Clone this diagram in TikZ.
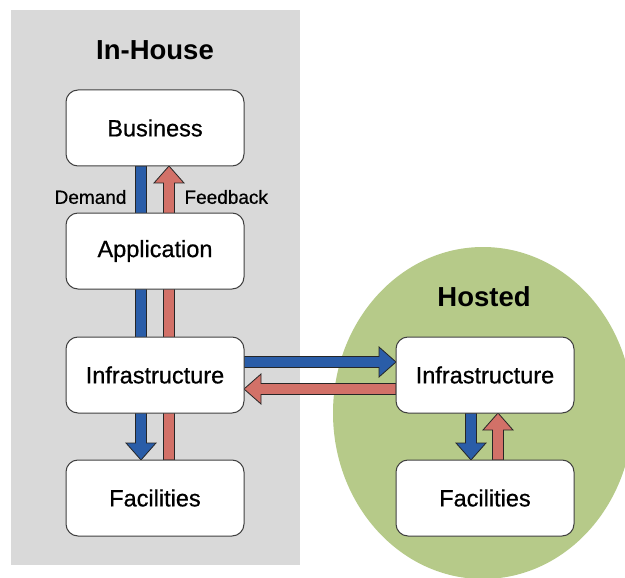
\documentclass[tikz,border=0pt]{standalone}
\usepackage{fontspec}
\setmainfont{Liberation Sans}
\newfontfamily\labfont{Liberation Sans}[FakeBold=0.7]
\usetikzlibrary{calc,backgrounds}
\definecolor{demColor}{HTML}{2A5DA8}
\definecolor{fbColor}{HTML}{D27168}
\definecolor{houseColor}{HTML}{D9D9D9}
\definecolor{hostColor}{HTML}{B6CA89}
\pgfdeclarelayer{bg}
\pgfdeclarelayer{arrows}
\pgfsetlayers{bg,arrows,main}
\tikzset{
	layer box/.style={draw=black!75, fill=white, rounded corners=12pt, line width=1pt,
		minimum width=178pt, minimum height=76pt, outer sep=0,
		font=\labfont\fontsize{23.5}{26}\selectfont},
	side title/.style={font=\fontsize{27.5}{30}\selectfont\bfseries},
	flow lab/.style={font=\labfont\fontsize{19}{22}\selectfont},
	shaft w/.store in=\ShaftW,
	shaft w=5.5pt,
	head w/.store in=\HeadW,
	head w=15pt,
	head len/.store in=\HeadLen,
	head len=17pt
}
% #1 tail, #2 tip, #3 colour
\newcommand{\fatarrow}[3]{%
	\coordinate (fa base) at ($(#2)!\HeadLen!(#1)$);
	\draw[fill=#3, draw=black!85, line width=0.8pt, line join=miter]
		($(#1)!\ShaftW!90:(#2)$) -- ($(fa base)!\ShaftW!90:(#2)$) -- ($(fa base)!\HeadW!90:(#2)$)
		-- (#2) -- ($(fa base)!\HeadW!-90:(#2)$) -- ($(fa base)!\ShaftW!-90:(#2)$)
		-- ($(#1)!\ShaftW!-90:(#2)$) -- cycle;}

\begin{document}
\begin{tikzpicture}[x=1pt, y=-1pt]
	\useasboundingbox (0,0) rectangle (625,578);
	
	% layers
	\node[layer box] (bus) at (155,128) {Business};
	\node[layer box] (app) at (155,251) {Application};
	\node[layer box] (infl) at (155,375) {Infrastructure};
	\node[layer box] (facl) at (155,498) {Facilities};
	\node[layer box] (infr) at (485,375) {Infrastructure};
	\node[layer box] (facr) at (485,498) {Facilities};
	
	\node[side title] (house) at (155,50) {In-House};
	\node[side title] (hosted) at (484,297) {Hosted};
	\node[flow lab, anchor=east] (dem) at (130,197) {Demand};
	\node[flow lab, anchor=west] (fb) at (181,197) {Feedback};
	
	\begin{pgfonlayer}{bg}
		\fill[houseColor] (11,10) rectangle (300,565);
		\begin{scope}
			\clip (0,0) rectangle (625,578);
			\fill[hostColor] (483,413) ellipse [x radius=150pt, y radius=166pt];
		\end{scope}
	\end{pgfonlayer}
	
	\coordinate (dl top) at ($(bus.south)+(-14,0)$);
	\coordinate (dl bot) at ($(facl.north)+(-14,0)$);
	\coordinate (fl top) at ($(bus.south)+(14,0)$);
	\coordinate (fl bot) at ($(facl.north)+(14,0)$);
	\coordinate (dh l) at ($(infl.east)+(0,-13)$);
	\coordinate (dh r) at ($(infr.west)+(0,-13)$);
	\coordinate (fh l) at ($(infl.east)+(0,14)$);
	\coordinate (fh r) at ($(infr.west)+(0,14)$);
	\coordinate (dr top) at ($(infr.south)+(-14,0)$);
	\coordinate (dr bot) at ($(facr.north)+(-14,0)$);
	\coordinate (fr top) at ($(infr.south)+(13,0)$);
	\coordinate (fr bot) at ($(facr.north)+(13,0)$);
	
	\begin{pgfonlayer}{arrows}
		\fatarrow{dl top}{dl bot}{demColor}
		\fatarrow{fl bot}{fl top}{fbColor}
		\fatarrow{dh l}{dh r}{demColor}
		\fatarrow{fh r}{fh l}{fbColor}
		\fatarrow{dr top}{dr bot}{demColor}
		\fatarrow{fr bot}{fr top}{fbColor}
	\end{pgfonlayer}
\end{tikzpicture}
\end{document}
